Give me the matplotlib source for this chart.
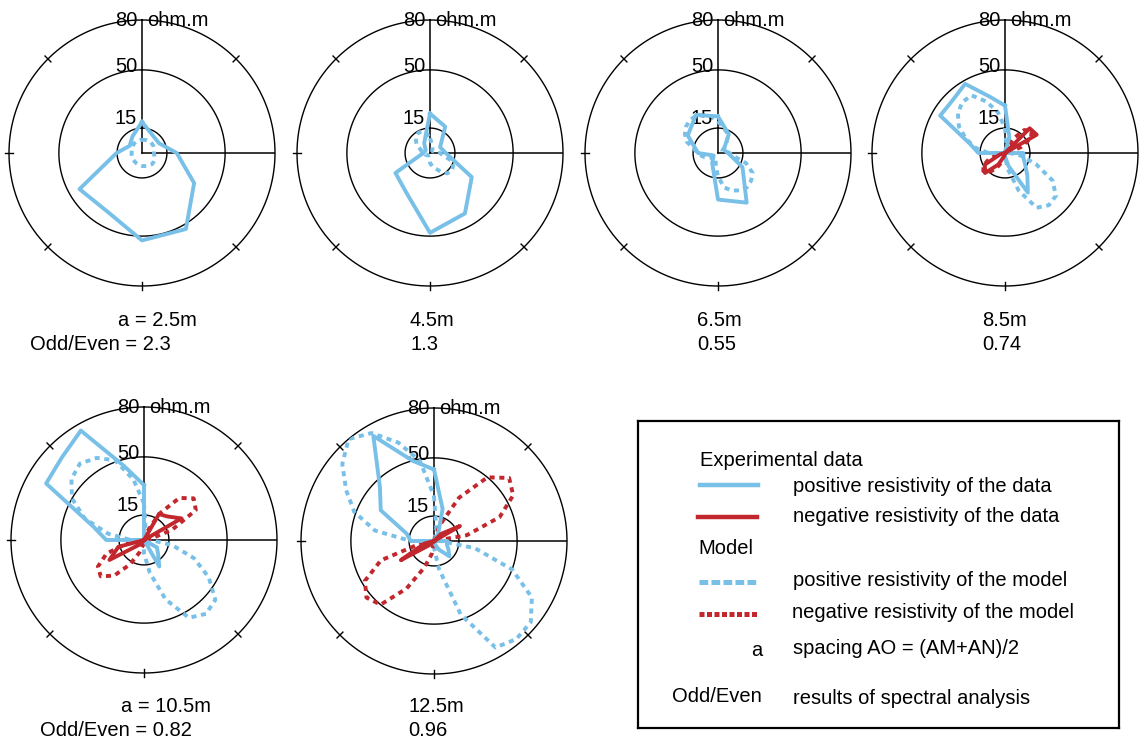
import numpy as np
import matplotlib
matplotlib.use("Agg")
import matplotlib.pyplot as plt

plt.rcParams['font.family'] = ['Liberation Sans', 'DejaVu Sans']

W, H = 1139, 740
BLUE = '#78C0E8'
RED = '#C1272D'
FS = 14.5

# electrode spacing a (m) and spectral odd/even ratio of each sounding
spacings = [2.5, 4.5, 6.5, 8.5, 10.5, 12.5]
odd_even = [2.3, 1.3, 0.55, 0.74, 0.82, 0.96]

# apparent resistivity (ohm.m) at evenly spaced azimuths, clockwise from north.
# negative values are drawn in red as their magnitude
data_25 = [18.7, 12.5, 11.8, 20.9, 36.2, 52.8, 52.6, 41.0, 43.4, 15.3, 8.6, 11.5]
data_45 = [23.7, 18.3, 7.0, 9.5, 29.0, 42.0, 48.0, 28.0, 24.0, 4.0, 3.0, 7.0]
data_65 = [22.0, 13.0, 4.0, 6.0, 17.0, 34.5, 28.0, 7.0, 3.0, 12.0, 21.0, 26.5]
data_85 = [28.5, 10.0, 0.0, -21.0, -22.0, 0.0, 11.0, 11.5, 14.0, 19.0, 27.5, 8.0,
           2.0, -2.0, -8.0, -17.0, -14.0, -3.0, 16.0, 22.0, 45.0, 44.7, 48.0, 35.0]
data_105 = [33.0, 0.0, -18.0, -20.0, -26.0, 0.0, 0.0, 0.0, 9.0, 12.0, 18.4, 0.0,
            0.0, 0.0, 0.0, -4.0, -24.0, -16.0, 22.7, 31.7, 68.0, 70.0, 76.0, 46.0]
data_125 = [43.0, 20.0, 5.0, -6.0, -18.0, 0.0, 8.0, 8.0, 10.0, 13.0, 6.0, 2.0,
            0.0, 0.0, 0.0, -3.0, -23.0, -6.0, 14.0, 17.0, 37.0, 46.0, 73.0, 50.0]

# model resistivity (ohm.m), every 10 degrees from north
model_25 = [8.0, 8.0, 8.2, 8.3, 8.3, 8.2, 8.0, 7.7, 7.4, 7.2, 7.5, 8.0,
            8.5, 8.9, 9.0, 8.6, 8.2, 8.0, 7.8, 7.5, 7.2, 7.0, 6.8, 6.6,
            6.5, 6.4, 6.3, 6.2, 6.3, 6.5, 6.8, 7.1, 7.4, 7.6, 7.8, 7.9]
model_45 = [9.0, 6.0, 4.0, 3.0, 2.0, 2.0, 2.0, 3.0, 4.0, 6.0, 8.0, 14.0,
            16.0, 17.0, 16.0, 13.0, 10.0, 8.0, 6.0, 4.0, 3.0, 2.0, 2.0, 2.0,
            2.0, 3.0, 3.0, 4.0, 5.0, 6.0, 9.0, 11.0, 13.0, 14.0, 14.0, 12.0]
model_65 = [19.0, 16.0, 14.0, 12.0, 8.0, 5.0, 3.0, 3.0, 5.0, 7.0, 9.0, 18.0,
            24.0, 26.0, 27.0, 26.0, 24.0, 21.0, 14.0, 8.0, 4.0, 3.0, 3.0, 4.0,
            6.0, 8.0, 10.0, 12.0, 15.0, 20.0, 23.0, 25.0, 26.0, 26.0, 24.0, 22.0]
model_85 = [15.0, 5.0, -3.0, -10.0, -18.0, -21.0, -18.0, -10.0, -2.0, 3.0, 10.0, 20.0,
            33.0, 40.0, 41.0, 38.0, 24.0, 10.0, 2.0, -2.0, -6.0, -11.0, -15.0, -17.0,
            -15.0, -10.0, -3.0, 10.0, 18.0, 25.0, 32.0, 37.0, 40.0, 40.0, 33.0, 25.0]
model_105 = [22.0, 6.0, -5.0, -18.0, -33.0, -39.0, -36.0, -18.0, -4.0, 4.0, 17.0, 32.0,
             45.0, 56.0, 58.0, 54.0, 38.0, 20.0, 8.0, -3.0, -8.0, -17.0, -28.0, -34.0,
             -32.0, -24.0, -10.0, 8.0, 22.0, 38.0, 50.0, 57.0, 60.0, 57.0, 51.0, 37.0]
model_125 = [27.0, 8.0, -10.0, -30.0, -50.0, -59.0, -55.0, -42.0, -20.0, 4.0, 25.0, 50.0,
             68.0, 76.0, 77.0, 74.0, 47.0, 17.0, 4.0, -8.0, -17.0, -33.0, -50.0, -53.0,
             -48.0, -34.0, -8.0, 14.0, 36.0, 51.0, 61.0, 72.0, 80.0, 75.0, 63.0, 49.0]

data_sets = [data_25, data_45, data_65, data_85, data_105, data_125]
model_sets = [model_25, model_45, model_65, model_85, model_105, model_125]

# rose centres in pixels and outer ring radius (80 ohm.m)
centers = [(142, 153), (430, 153), (718, 153), (1005, 153), (144, 540), (434, 541)]
R_PX = 133
RINGS = [15, 50, 80]


def fx(x):
    return x / W


def fy(y):
    return 1 - y / H


def signed_rose(ax, values, ls, lw, z):
    v = np.asarray(values, float)
    theta = np.deg2rad(np.arange(len(v)) * 360.0 / len(v))
    theta = np.append(theta, 2 * np.pi)
    v = np.append(v, v[0])
    pos = np.clip(v, 0, None)
    neg = np.clip(-v, 0, None)
    if pos.max() > 0:
        ax.plot(theta, pos, color=BLUE, lw=lw, ls=ls, zorder=z)
    if neg.max() > 0:
        ax.plot(theta, neg, color=RED, lw=lw, ls=ls, zorder=z + 0.5)


fig = plt.figure(figsize=(W / 100, H / 100), dpi=100)
ring = np.linspace(0, 2 * np.pi, 361)

for i, (cx, cy) in enumerate(centers):
    ax = fig.add_axes([fx(cx - R_PX), fy(cy + R_PX), 2 * R_PX / W, 2 * R_PX / H],
                      projection='polar')
    ax.set_theta_zero_location('N')
    ax.set_theta_direction(-1)
    ax.set_ylim(0, 80)
    ax.set_xticks([])
    ax.set_yticks([])
    ax.grid(False)
    ax.spines['polar'].set_visible(False)
    ax.patch.set_alpha(0)

    for r in RINGS:
        ax.plot(ring, np.full_like(ring, r), color='black', lw=1.0, clip_on=False, zorder=1)
    ax.plot([0, 0], [0, 80], color='black', lw=1.1, zorder=1)
    ax.plot([np.pi / 2, np.pi / 2], [0, 80], color='black', lw=1.1, zorder=1)
    for az in (45, 135, 180, 225, 270, 315):
        t = np.deg2rad(az)
        ax.plot([t, t], [77.5, 82.5], color='black', lw=1.0, clip_on=False, zorder=1)

    ax.annotate('80', xy=(0, 80), xytext=(-3.5, -0.5), textcoords='offset points',
                ha='right', va='center', fontsize=FS, annotation_clip=False)
    ax.annotate('ohm.m', xy=(0, 80), xytext=(4, -0.5), textcoords='offset points',
                ha='left', va='center', fontsize=FS, annotation_clip=False)
    ax.annotate('50', xy=(0, 50), xytext=(-3.5, 2.5), textcoords='offset points',
                ha='right', va='center', fontsize=FS, annotation_clip=False)
    ax.annotate('15', xy=(0, 15), xytext=(-3.5, 7), textcoords='offset points',
                ha='right', va='center', fontsize=FS, annotation_clip=False)

    signed_rose(ax, model_sets[i], (0, (1.3, 1.2)), 2.8, 2)
    signed_rose(ax, data_sets[i], '-', 2.8, 4)

# captions under each rose
row1_y = (321, 344)
row2_y = (707, 730)
fig.text(fx(118), fy(row1_y[0]), f"a = {spacings[0]}m", fontsize=FS, va='center')
fig.text(fx(30), fy(row1_y[1]), f"Odd/Even = {odd_even[0]}", fontsize=FS, va='center')
for i, x in zip((1, 2, 3), (410, 697, 982)):
    fig.text(fx(x), fy(row1_y[0]), f"{spacings[i]}m", fontsize=FS, va='center')
    fig.text(fx(x), fy(row1_y[1]), f"{odd_even[i]}", fontsize=FS, va='center')
fig.text(fx(121), fy(row2_y[0]), f"a = {spacings[4]}m", fontsize=FS, va='center')
fig.text(fx(40), fy(row2_y[1]), f"Odd/Even = {odd_even[4]}", fontsize=FS, va='center')
fig.text(fx(408), fy(row2_y[0]), f"{spacings[5]}m", fontsize=FS, va='center')
fig.text(fx(408), fy(row2_y[1]), f"{odd_even[5]}", fontsize=FS, va='center')

# key box
lg = fig.add_axes([fx(638), fy(728), (1119 - 638) / W, (728 - 421) / H])
lg.set_xlim(638, 1119)
lg.set_ylim(728, 421)
lg.set_xticks([])
lg.set_yticks([])
for s in lg.spines.values():
    s.set_linewidth(1.6)

lg.text(700, 460, 'Experimental data', fontsize=FS, va='center')
lg.plot([700, 758], [485, 485], color=BLUE, lw=3.2)
lg.text(793, 487, 'positive resistivity of the data', fontsize=FS, va='center')
lg.plot([698, 757], [517, 517], color=RED, lw=3.2)
lg.text(793, 517, 'negative resistivity of the data', fontsize=FS, va='center')
lg.text(698, 548, 'Model', fontsize=FS, va='center')
lg.plot([699, 757], [582, 582], color=BLUE, lw=3.6, ls=(0, (1.74, 0.66)))
lg.text(793, 580, 'positive resistivity of the model', fontsize=FS, va='center')
lg.plot([699, 758], [614, 614], color=RED, lw=3.6, ls=(0, (1.0, 0.5)))
lg.text(792, 613, 'negative resistivity of the model', fontsize=FS, va='center')
lg.text(762, 650, 'a', fontsize=FS, va='center', ha='right')
lg.text(793, 649, 'spacing AO = (AM+AN)/2', fontsize=FS, va='center')
lg.text(762, 697, 'Odd/Even', fontsize=FS, va='center', ha='right')
lg.text(793, 698, 'results of spectral analysis', fontsize=FS, va='center')

fig.savefig('out.png', dpi=100)
